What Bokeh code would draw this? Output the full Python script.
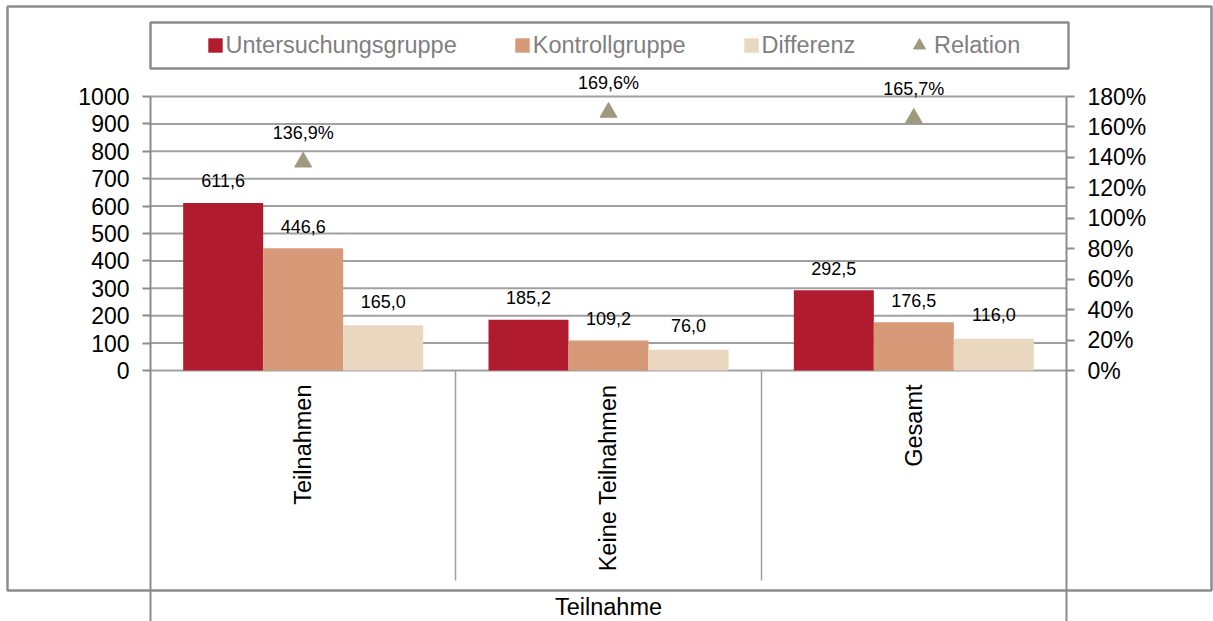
import math
from bokeh.plotting import figure
from bokeh.models import (Range1d, LinearAxis, FixedTicker, PrintfTickFormatter, ColumnDataSource,
                          LabelSet, Legend, LegendItem, BoxAnnotation)
from bokeh.core.properties import value
from bokeh.transform import dodge
from bokeh.embed import file_html
from bokeh.resources import INLINE

# ---------------- data ----------------
categories = ["Teilnahmen", "Keine Teilnahmen", "Gesamt"]
untersuchung = [611.6, 185.2, 292.5]
kontroll = [446.6, 109.2, 176.5]
differenz = [165.0, 76.0, 116.0]
relation = [136.9, 169.6, 165.7]          # percent
series_names = ["Untersuchungsgruppe", "Kontrollgruppe", "Differenz", "Relation"]
left_ticks = [0, 100, 200, 300, 400, 500, 600, 700, 800, 900, 1000]
right_ticks = [0, 20, 40, 60, 80, 100, 120, 140, 160, 180]
axis_title = "Teilnahme"

# ---------------- style ----------------
FONT = "Liberation Sans"
C_RED = "#B01C2E"
C_ORANGE = "#D69A78"
C_BEIGE = "#E9D7C0"
C_TRI = "#9E9A80"
GRID = "#A0A0A0"
AXIS = "#8C8C8C"
BW = 0.262


def de(v, suffix=""):
    return f"{v:.1f}".replace(".", ",") + suffix


n = len(categories)
lo, hi = -0.5, n - 0.5
src = ColumnDataSource(dict(
    x=list(range(n)),
    u=untersuchung, k=kontroll, d=differenz, r=relation,
    ul=[de(v) for v in untersuchung],
    kl=[de(v) for v in kontroll],
    dl=[de(v) for v in differenz],
    rl=[de(v, "%") for v in relation],
))

# the frame covers the whole canvas; axes are placed at fixed locations
p = figure(width=1213, height=621, output_backend="svg", toolbar_location=None, title=None,
           x_range=Range1d(-0.99127, 2.98144), y_range=Range1d(-916.06, 1350.36),
           min_border=0, x_axis_location=None, y_axis_location=None)
p.outline_line_color = None
p.background_fill_color = "white"
p.border_fill_color = "white"
p.grid.visible = False
p.extra_y_ranges = {"pct": Range1d(-164.89, 243.07)}

# gridlines (value axis)
p.segment(x0=lo, x1=hi, y0=left_ticks, y1=left_ticks, line_color=GRID, line_width=2)

# left axis
ly = LinearAxis(fixed_location=lo, ticker=FixedTicker(ticks=left_ticks, minor_ticks=[]),
                bounds=(-916.06, max(left_ticks)))
p.add_layout(ly, "left")
# right axis
ry = LinearAxis(fixed_location=hi, y_range_name="pct",
                ticker=FixedTicker(ticks=right_ticks, minor_ticks=[]),
                formatter=PrintfTickFormatter(format="%d%%"),
                bounds=(-164.89, max(right_ticks)))
p.add_layout(ry, "right")

for ax in (ly, ry):
    ax.axis_line_color = AXIS
    ax.axis_line_width = 2
    ax.major_tick_line_color = AXIS
    ax.major_tick_line_width = 2
    ax.major_tick_out = 8
    ax.major_tick_in = 0
    ax.minor_tick_line_color = None
    ax.major_label_text_font = FONT
    ax.major_label_text_font_size = "23px"
    ax.major_label_text_color = "black"
    ax.major_label_standoff = 13

# category separators
sep = LinearAxis(fixed_location=0, bounds=(lo, hi),
                 ticker=FixedTicker(ticks=[i + 0.5 for i in range(n - 1)], minor_ticks=[]))
sep.axis_line_color = None
sep.major_tick_line_color = GRID
sep.major_tick_line_width = 1.5
sep.major_tick_out = 210
sep.major_tick_in = 0
sep.minor_tick_line_color = None
sep.major_label_text_color = None
sep.major_label_text_font_size = "1px"
p.add_layout(sep, "below")

# category labels + axis title
xa = LinearAxis(fixed_location=0, bounds=(lo, hi),
                ticker=FixedTicker(ticks=list(range(n)), minor_ticks=[]),
                major_label_overrides={i: c for i, c in enumerate(categories)},
                major_label_orientation=math.pi / 2,
                axis_label=axis_title)
xa.axis_line_color = None
xa.major_tick_line_color = None
xa.major_tick_out = 0
xa.major_tick_in = 0
xa.minor_tick_line_color = None
xa.major_label_text_font = FONT
xa.major_label_text_font_size = "23.5px"
xa.major_label_text_color = "black"
xa.major_label_standoff = 14
xa.axis_label_text_font = FONT
xa.axis_label_text_font_size = "23.5px"
xa.axis_label_text_font_style = "normal"
xa.axis_label_text_color = "black"
xa.axis_label_standoff = 20
p.add_layout(xa, "below")

# bars
r_u = p.vbar(x=dodge("x", -BW, range=p.x_range), top="u", width=BW, source=src,
             fill_color=C_RED, line_color=None)
r_k = p.vbar(x=dodge("x", 0, range=p.x_range), top="k", width=BW, source=src,
             fill_color=C_ORANGE, line_color=None)
r_d = p.vbar(x=dodge("x", BW, range=p.x_range), top="d", width=BW, source=src,
             fill_color=C_BEIGE, line_color=None)
r_r = p.scatter(x="x", y="r", y_range_name="pct", source=src, marker="triangle", size=17,
                fill_color=C_TRI, line_color=C_TRI)

lab_kw = dict(source=src, text_font=value(FONT), text_font_size="18px", text_color="black",
              text_align="center", text_baseline="middle")
p.add_layout(LabelSet(x=dodge("x", -BW, range=p.x_range), y="u", text="ul", y_offset=22, **lab_kw))
p.add_layout(LabelSet(x=dodge("x", 0, range=p.x_range), y="k", text="kl", y_offset=22, **lab_kw))
p.add_layout(LabelSet(x=dodge("x", BW, range=p.x_range), y="d", text="dl", y_offset=24, **lab_kw))
p.add_layout(LabelSet(x="x", y="r", text="rl", y_range_name="pct", y_offset=29, **lab_kw))

# legend (bars) and legend (triangle marker, larger glyph box)
leg_kw = dict(orientation="horizontal", label_text_font=FONT, label_text_font_size="23.5px",
              label_text_color="#7F7F7F", border_line_color=None, background_fill_alpha=0,
              padding=0, margin=0)
legend1 = Legend(items=[LegendItem(label=series_names[0], renderers=[r_u]),
                        LegendItem(label=series_names[1], renderers=[r_k]),
                        LegendItem(label=series_names[2], renderers=[r_d])],
                 location=(205.5, 562.5), spacing=56, glyph_width=18, glyph_height=18,
                 label_standoff=2, **leg_kw)
legend2 = Legend(items=[LegendItem(label=series_names[3], renderers=[r_r])],
                 location=(904, 561), glyph_width=30, glyph_height=30, label_standoff=-7,
                 **leg_kw)
p.add_layout(legend1, "center")
p.add_layout(legend2, "center")

# chart border and legend frame
box_kw = dict(left_units="canvas", right_units="canvas", top_units="canvas",
              bottom_units="canvas", fill_alpha=0, line_color=AXIS, line_alpha=1,
              line_width=2.5)
p.add_layout(BoxAnnotation(left=7, right=1211, top=6, bottom=590, **box_kw))
p.add_layout(BoxAnnotation(left=150, right=1068, top=22, bottom=68, **box_kw))

open("out.html", "w").write(file_html(p, INLINE))
